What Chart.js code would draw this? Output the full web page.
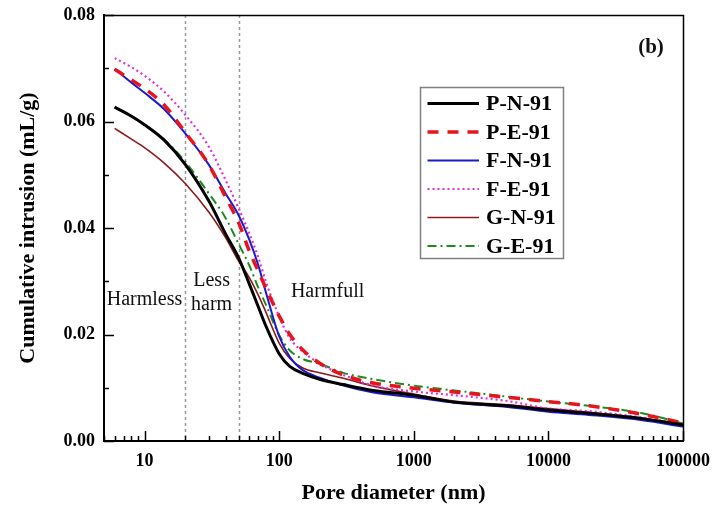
<!DOCTYPE html>
<html><head><meta charset="utf-8">
<script src="https://cdn.jsdelivr.net/npm/chart.js@4.4.1/dist/chart.umd.min.js"></script>
<style>html,body{margin:0;padding:0;background:#fff}#wrap{width:716px;height:515px;position:relative}</style>
</head><body><div id="wrap"><canvas id="c" width="716" height="515"></canvas></div>
<script>
// ---- data ----
const diameters = [6, 8, 10, 14, 20, 30, 40, 50, 60, 70, 80, 100, 120, 150, 200, 300, 500, 1000, 2000, 5000, 10000, 20000, 50000, 100000];
const PN91 = [0.0627, 0.0610, 0.0594, 0.0565, 0.0520, 0.0451, 0.0389, 0.0344, 0.0295, 0.0252, 0.0215, 0.0164, 0.0140, 0.0127, 0.0116, 0.0106, 0.0095, 0.0086, 0.0073, 0.0066, 0.0058, 0.0052, 0.0042, 0.0030];
const PE91 = [0.0698, 0.0678, 0.0662, 0.0631, 0.0580, 0.0519, 0.0458, 0.0410, 0.0357, 0.0319, 0.0286, 0.0235, 0.0200, 0.0171, 0.0146, 0.0124, 0.0109, 0.0099, 0.0092, 0.0082, 0.0074, 0.0066, 0.0050, 0.0034];
const FN91 = [0.0699, 0.0673, 0.0654, 0.0623, 0.0578, 0.0519, 0.0465, 0.0424, 0.0378, 0.0330, 0.0278, 0.0197, 0.0158, 0.0133, 0.0119, 0.0104, 0.0091, 0.0082, 0.0072, 0.0064, 0.0055, 0.0049, 0.0039, 0.0027];
const FE91 = [0.0719, 0.0702, 0.0686, 0.0656, 0.0613, 0.0553, 0.0490, 0.0437, 0.0390, 0.0345, 0.0298, 0.0234, 0.0193, 0.0168, 0.0145, 0.0124, 0.0104, 0.0093, 0.0086, 0.0075, 0.0061, 0.0056, 0.0044, 0.0031];
const GN91 = [0.0587, 0.0567, 0.0551, 0.0522, 0.0484, 0.0430, 0.0382, 0.0338, 0.0307, 0.0274, 0.0241, 0.0184, 0.0155, 0.0137, 0.0128, 0.0118, 0.0103, 0.0088, 0.0075, 0.0068, 0.0061, 0.0054, 0.0043, 0.0031];
const GE91 = [0.0627, 0.0610, 0.0594, 0.0566, 0.0525, 0.0465, 0.0419, 0.0370, 0.0330, 0.0288, 0.0255, 0.0199, 0.0170, 0.0154, 0.0145, 0.0128, 0.0116, 0.0104, 0.0095, 0.0083, 0.0074, 0.0066, 0.0052, 0.0033];
const seriesNames = ['P-N-91', 'P-E-91', 'F-N-91', 'F-E-91', 'G-N-91', 'G-E-91'];
const xMajorTicks = [10, 100, 1000, 10000, 100000];
const xTickLabels = ['10', '100', '1000', '10000', '100000'];
const yTickValues = [0, 0.01, 0.02, 0.03, 0.04, 0.05, 0.06, 0.07, 0.08];
const yTickLabels = ['0.00', '', '0.02', '', '0.04', '', '0.06', '', '0.08'];
const zoneBoundaries = [20, 50];
const zoneLabels = ['Harmless', 'Less', 'harm', 'Harmfull'];
const panelLabel = '(b)';

// ---- helpers ----
const SERIF = "'Liberation Serif','Times New Roman',Times,serif";
const allValues = [PN91, PE91, FN91, FE91, GN91, GE91];
const styles = [
  {color: '#000000', width: 3, dash: []},
  {color: '#e8141c', width: 3.5, dash: [11, 9]},
  {color: '#1a1acc', width: 2, dash: []},
  {color: '#e030e0', width: 2.2, dash: [2, 3]},
  {color: '#8b1a1a', width: 1.6, dash: []},
  {color: '#1f8a1f', width: 2, dash: [9, 4, 2, 4]}
];
const datasets = seriesNames.map((name, i) => ({
  label: name,
  data: diameters.map((d, k) => ({x: d, y: allValues[i][k]})),
  borderColor: styles[i].color,
  backgroundColor: styles[i].color,
  borderWidth: styles[i].width,
  borderDash: styles[i].dash,
  pointRadius: 0,
  fill: false,
  cubicInterpolationMode: 'monotone'
}));

// minor + major ticks for log axis
const xAllTicks = [];
for (let e = 0; e <= 5; e++) {
  for (let m = 1; m <= 9; m++) {
    const v = m * Math.pow(10, e);
    if (v >= 5 && v <= 100000) xAllTicks.push(v);
  }
}

const decor = {
  id: 'decor',
  beforeDatasetsDraw(chart) {
    const {ctx, chartArea: a, scales: {x}} = chart;
    ctx.save();
    ctx.strokeStyle = '#999999';
    ctx.lineWidth = 1.5;
    ctx.setLineDash([3, 3]);
    zoneBoundaries.forEach(v => {
      const px = Math.round(x.getPixelForValue(v)) + 0.5;
      ctx.beginPath(); ctx.moveTo(px, a.top); ctx.lineTo(px, a.bottom); ctx.stroke();
    });
    ctx.restore();
  },
  afterDraw(chart) {
    const {ctx, chartArea: a, scales: {x, y}} = chart;
    ctx.save();
    // frame top/right
    ctx.strokeStyle = '#000'; ctx.lineWidth = 1.5; ctx.setLineDash([]);
    ctx.beginPath();
    ctx.moveTo(a.left, a.top + 0.5); ctx.lineTo(a.right + 0.5, a.top + 0.5); ctx.lineTo(a.right + 0.5, a.bottom);
    ctx.stroke();
    // inward ticks
    ctx.lineWidth = 1.5;
    x.ticks.forEach(t => {
      const px = Math.round(x.getPixelForValue(t.value)) + 0.5;
      const len = xMajorTicks.includes(t.value) ? 10 : 5;
      ctx.beginPath(); ctx.moveTo(px, a.bottom); ctx.lineTo(px, a.bottom - len); ctx.stroke();
    });
    y.ticks.forEach((t, i) => {
      const py = Math.round(y.getPixelForValue(t.value)) + 0.5;
      const len = (yTickLabels[i] || '') !== '' ? 10 : 5;
      ctx.beginPath(); ctx.moveTo(a.left, py); ctx.lineTo(a.left + len, py); ctx.stroke();
    });
    // zone labels
    ctx.fillStyle = '#111';
    ctx.font = '20px ' + SERIF;
    ctx.textAlign = 'center'; ctx.textBaseline = 'middle';
    ctx.fillText(zoneLabels[0], x.getPixelForValue(10), y.getPixelForValue(0.0265));
    ctx.fillText(zoneLabels[1], x.getPixelForValue(31.5), y.getPixelForValue(0.0301));
    ctx.fillText(zoneLabels[2], x.getPixelForValue(31.5), y.getPixelForValue(0.0256));
    ctx.fillText(zoneLabels[3], x.getPixelForValue(229), y.getPixelForValue(0.0280));
    // panel label
    ctx.font = 'bold 21px ' + SERIF;
    ctx.fillText(panelLabel, a.right - 32, a.top + 33);
    // legend
    const lx = 420.5, ly = 87.5, lw = 143, lh = 171;
    ctx.fillStyle = '#fff';
    ctx.fillRect(lx, ly, lw, lh);
    ctx.strokeStyle = '#808080'; ctx.lineWidth = 1.5;
    ctx.strokeRect(lx, ly, lw, lh);
    ctx.font = 'bold 22px ' + SERIF;
    ctx.textAlign = 'left'; ctx.textBaseline = 'middle';
    chart.data.datasets.forEach((ds, i) => {
      const ry = ly + 16 + i * 28.5;
      ctx.strokeStyle = ds.borderColor;
      ctx.lineWidth = ds.borderWidth;
      ctx.setLineDash(ds.borderDash || []);
      ctx.beginPath(); ctx.moveTo(427.5, ry); ctx.lineTo(479, ry); ctx.stroke();
      ctx.setLineDash([]);
      ctx.fillStyle = '#000';
      ctx.fillText(ds.label, 486, ry + 1);
    });
    ctx.restore();
  }
};

new Chart(document.getElementById('c'), {
  type: 'line',
  data: {datasets},
  options: {
    responsive: false,
    animation: false,
    devicePixelRatio: 1,
    layout: {padding: {left: 0, right: 33, top: 15, bottom: 0}},
    plugins: {legend: {display: false}, tooltip: {enabled: false}},
    scales: {
      x: {
        type: 'logarithmic', min: 5, max: 100000, position: 'bottom',
        afterBuildTicks: s => { s.ticks = xAllTicks.map(v => ({value: v, major: xMajorTicks.includes(v)})); },
        afterFit: s => { s.height = 74; s.paddingLeft = 0; s.paddingRight = 0; },
        ticks: {
          autoSkip: false, maxRotation: 0, color: '#000', padding: 10,
          font: {family: SERIF, size: 18, weight: 'bold'},
          callback: v => { const i = xMajorTicks.indexOf(v); return i >= 0 ? xTickLabels[i] : ''; }
        },
        grid: {drawOnChartArea: false, drawTicks: false},
        border: {display: true, color: '#000', width: 2},
        title: {display: true, text: 'Pore diameter (nm)', color: '#000',
          font: {family: SERIF, size: 22, weight: 'bold'}, padding: {top: 0, bottom: 8}}
      },
      y: {
        type: 'linear', min: 0, max: 0.08,
        afterBuildTicks: s => { s.ticks = yTickValues.map(v => ({value: v})); },
        afterFit: s => { s.width = 104; s.paddingTop = 0; s.paddingBottom = 0; },
        ticks: {
          autoSkip: false, color: '#000', padding: 9,
          font: {family: SERIF, size: 18, weight: 'bold'},
          callback: (v, i) => yTickLabels[i]
        },
        grid: {drawOnChartArea: false, drawTicks: false},
        border: {display: true, color: '#000', width: 2},
        title: {display: true, text: 'Cumulative intrusion (mL/g)', color: '#000',
          font: {family: SERIF, size: 22, weight: 'bold'}, padding: {top: 15, bottom: 0}}
      }
    }
  },
  plugins: [decor]
});
</script>
</body></html>
